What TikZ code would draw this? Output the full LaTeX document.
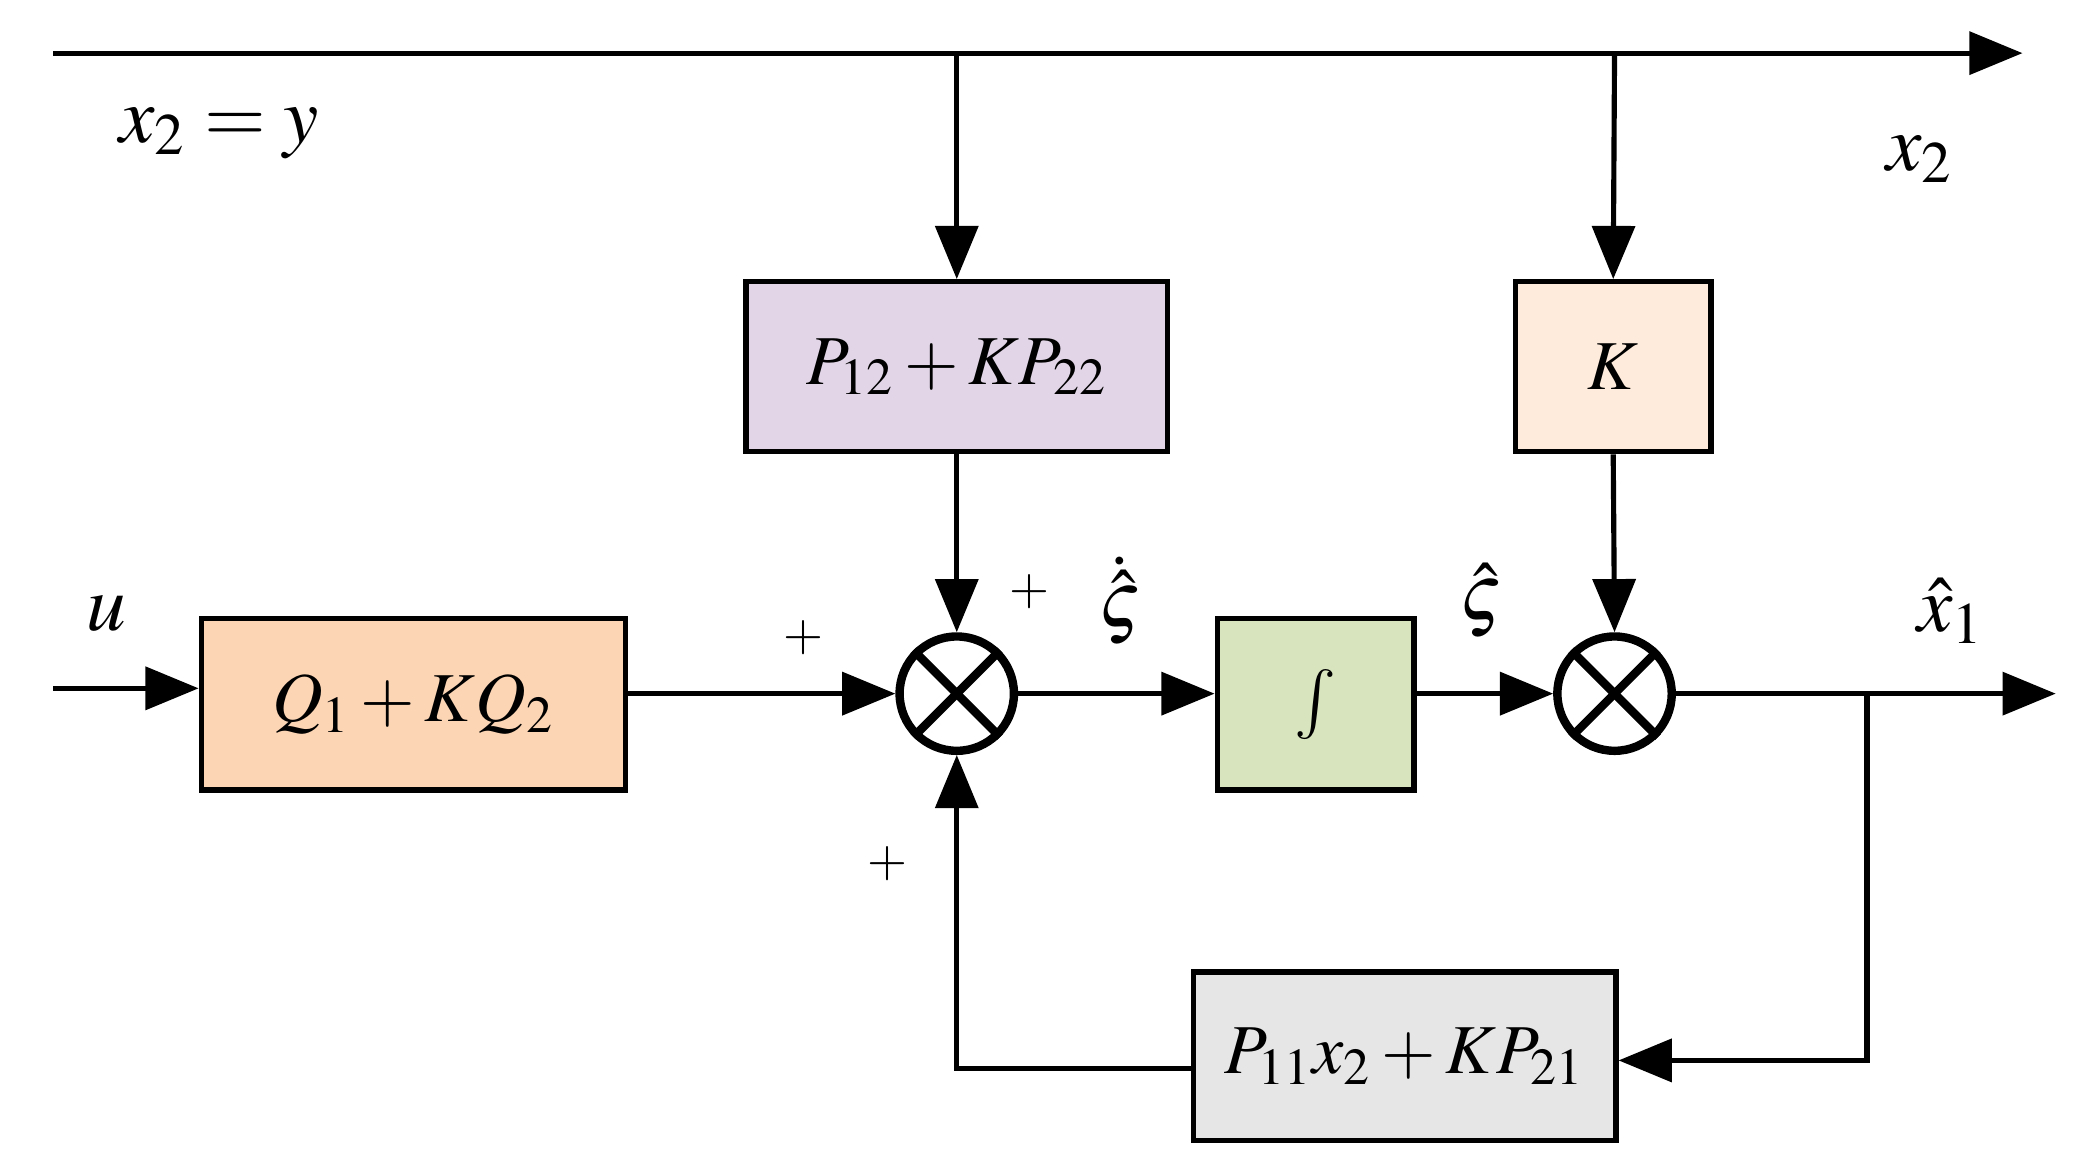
\documentclass[tikz,border=0pt]{standalone}
\usepackage{mathptmx}
\usetikzlibrary{arrows.meta}
\definecolor{cpurple}{HTML}{E1D5E7}
\definecolor{corange}{HTML}{FCD5B5}
\definecolor{cpeach}{HTML}{FFEBDB}
\definecolor{cgreen}{HTML}{D7E4BD}
\definecolor{cgray}{HTML}{E6E6E6}
\begin{document}
\begin{tikzpicture}[x=0.01cm,y=-0.01cm,
  blk/.style={draw, line width=1.1pt, inner sep=0pt, font=\fontsize{15}{18}\selectfont},
  sum/.style={draw, circle, line width=1.8pt, minimum size=0.86cm, inner sep=0pt},
  ln/.style={line width=1.1pt},
  arr/.style={ln, -{Triangle[length=4mm,width=3.2mm]}},
  lbl/.style={font=\fontsize{17}{20}\selectfont},
  pl/.style={font=\fontsize{11}{13}\selectfont}]
\useasboundingbox (0,0) rectangle (1560,880);
% blocks
\node[blk, fill=cpurple, minimum width=3.17cm, minimum height=1.28cm] (P) at (720,276) {$P_{12}+KP_{22}$};
\node[blk, fill=cpeach, minimum width=1.47cm, minimum height=1.28cm] (K) at (1214,276) {$K$};
\node[blk, fill=corange, minimum width=3.19cm, minimum height=1.29cm] (Q) at (311,530) {$Q_1+KQ_2$};
\node[blk, fill=cgreen, minimum width=1.48cm, minimum height=1.29cm] (I) at (990,530) {$\int$};
\node[blk, fill=cgray, minimum width=3.18cm, minimum height=1.27cm] (F) at (1057,795) {$P_{11}x_2+KP_{21}$};
% summing junctions
\node[sum] (S1) at (720,522) {};
\node[sum] (S2) at (1215,522) {};
\foreach \s in {S1,S2}{
  \draw[line width=1.8pt] (\s.north east) -- (\s.south west);
  \draw[line width=1.8pt] (\s.north west) -- (\s.south east);
}
% coordinates
\coordinate (tin) at (40,40);
\coordinate (tout) at (1522,40);
\coordinate (t1) at (720,40);
\coordinate (t2) at (1215,40);
\coordinate (uin) at (40,518);
\coordinate (out) at (1547,522);
\coordinate (br) at (1405,522);
\coordinate (brd) at (1405,798);
\coordinate (fbc) at (720,804);
% connectors
\draw[arr] (tin) -- (tout);
\draw[arr] (t1) -- (P.north);
\draw[arr] (t2) -- (K.north);
\draw[arr] (P.south) -- (S1.north);
\draw[arr] (K.south) -- (S2.north);
\draw[arr] (uin) -- (Q.west |- uin);
\draw[arr] (Q.east |- S1) -- (S1.west);
\draw[arr] (S1.east) -- (I.west |- S1);
\draw[arr] (I.east |- S2) -- (S2.west);
\draw[arr] (S2.east) -- (out);
\draw[arr] (br) -- (brd) -- (F.east |- brd);
\draw[arr] (F.west |- fbc) -- (fbc) -- (S1.south);
% labels
\node[lbl] (lx2y) at (165,100) {$x_2=y$};
\node[lbl] (lx2) at (1445,120) {$x_2$};
\node[lbl] (lu) at (80,462) {$u$};
\node[lbl] (lzd) at (843,452) {$\dot{\hat{\varsigma}}$};
\node[lbl] (lzh) at (1115,452) {$\hat{\varsigma}$};
\node[lbl] (lx1) at (1468,460) {$\hat{x}_1$};
\node[pl] (p1) at (605,480) {$+$};
\node[pl] (p2) at (775,445) {$+$};
\node[pl] (p3) at (668,650) {$+$};
\end{tikzpicture}
\end{document}
